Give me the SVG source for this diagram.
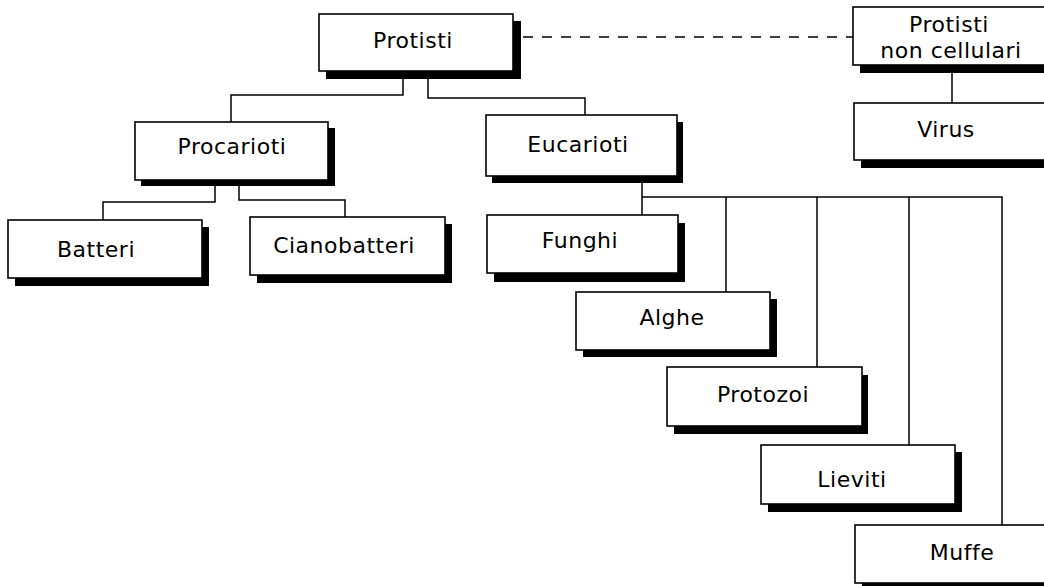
<svg xmlns="http://www.w3.org/2000/svg" width="1044" height="586" viewBox="0 0 1044 586">
<style>
.box{fill:#fff;stroke:#000;stroke-width:1.6}
.sh{fill:#000}
.t{font-family:"DejaVu Sans",sans-serif;font-size:22px;letter-spacing:0.5px;fill:#000;text-anchor:middle}
.c{fill:none;stroke:#000;stroke-width:1.5}
.d{fill:none;stroke:#000;stroke-width:1.5;stroke-dasharray:10 9}
</style>
<rect width="1044" height="586" fill="#fff"/>
<g id="connectors">
<path class="c" d="M403,71 V95 H231 V122"/>
<path class="c" d="M428,71 V98 H585 V115"/>
<path class="c" d="M215,180 V202 H103 V220"/>
<path class="c" d="M239,180 V200 H345 V217"/>
<path class="c" d="M642,176 V215"/>
<path class="c" d="M642,197 H1002 V525"/>
<path class="c" d="M726,197 V292"/>
<path class="c" d="M817,197 V367"/>
<path class="c" d="M909,197 V445"/>
<path class="c" d="M952,65 V103"/>
<path class="d" d="M523,37 H853"/>
</g>
<g id="protisti">
<rect class="sh" x="326" y="21" width="195" height="58"/>
<rect class="box" x="319" y="14" width="194" height="57"/>
<text class="t" x="413" y="48">Protisti</text>
</g>
<g id="protisti-non-cellulari">
<rect class="sh" x="860" y="14" width="200" height="59"/>
<rect class="box" x="853" y="7" width="200" height="58"/>
<text class="t" x="949" y="32">Protisti</text>
<text class="t" x="951" y="58">non cellulari</text>
</g>
<g id="virus">
<rect class="sh" x="861" y="110" width="200" height="58"/>
<rect class="box" x="854" y="103" width="200" height="57"/>
<text class="t" x="946" y="137">Virus</text>
</g>
<g id="procarioti">
<rect class="sh" x="141" y="128" width="194" height="58"/>
<rect class="box" x="135" y="122" width="193" height="58"/>
<text class="t" x="232" y="154">Procarioti</text>
</g>
<g id="eucarioti">
<rect class="sh" x="492" y="122" width="191" height="61"/>
<rect class="box" x="486" y="115" width="191" height="61"/>
<text class="t" x="578" y="152">Eucarioti</text>
</g>
<g id="batteri">
<rect class="sh" x="15" y="227" width="194" height="59"/>
<rect class="box" x="8" y="220" width="194" height="58"/>
<text class="t" x="96" y="257">Batteri</text>
</g>
<g id="cianobatteri">
<rect class="sh" x="257" y="224" width="195" height="59"/>
<rect class="box" x="250" y="217" width="195" height="58"/>
<text class="t" x="344" y="253">Cianobatteri</text>
</g>
<g id="funghi">
<rect class="sh" x="494" y="223" width="191" height="59"/>
<rect class="box" x="487" y="215" width="191" height="58"/>
<text class="t" x="580" y="248">Funghi</text>
</g>
<g id="alghe">
<rect class="sh" x="583" y="299" width="194" height="58"/>
<rect class="box" x="576" y="292" width="194" height="58"/>
<text class="t" x="672" y="325">Alghe</text>
</g>
<g id="protozoi">
<rect class="sh" x="674" y="375" width="194" height="59"/>
<rect class="box" x="667" y="367" width="195" height="59"/>
<text class="t" x="763" y="402">Protozoi</text>
</g>
<g id="lieviti">
<rect class="sh" x="768" y="452" width="194" height="60"/>
<rect class="box" x="761" y="445" width="194" height="59"/>
<text class="t" x="852" y="487">Lieviti</text>
</g>
<g id="muffe">
<rect class="sh" x="862" y="532" width="200" height="58"/>
<rect class="box" x="855" y="525" width="200" height="58"/>
<text class="t" x="962" y="560">Muffe</text>
</g>
</svg>
